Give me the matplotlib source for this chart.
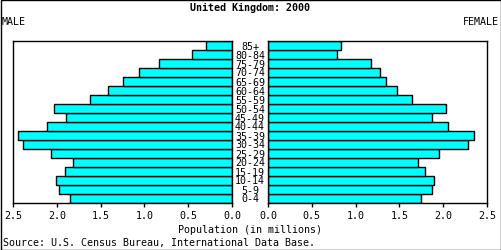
import matplotlib
matplotlib.use("Agg")
import matplotlib.pyplot as plt
from matplotlib.patches import Rectangle

ages = ["0-4", "5-9", "10-14", "15-19", "20-24", "25-29", "30-34", "35-39",
        "40-44", "45-49", "50-54", "55-59", "60-64", "65-69", "70-74",
        "75-79", "80-84", "85+"]
male = [1.846, 1.971, 2.005, 1.903, 1.811, 2.062, 2.386, 2.443, 2.108,
        1.891, 2.028, 1.617, 1.412, 1.240, 1.058, 0.830, 0.453, 0.293]
female = [1.747, 1.872, 1.895, 1.792, 1.712, 1.952, 2.283, 2.352, 2.055,
          1.872, 2.032, 1.644, 1.473, 1.347, 1.279, 1.176, 0.788, 0.833]
ticks = [0.0, 0.5, 1.0, 1.5, 2.0, 2.5]
tick_labels = ["0.0", "0.5", "1.0", "1.5", "2.0", "2.5"]

plt.rcParams['font.family'] = ['DejaVu Sans Mono']
W, H = 501, 251
fig = plt.figure(figsize=(W / 100, H / 100), dpi=100)

fs = 7.2
axL = fig.add_axes([13 / W, (H - 204) / H, 219 / W, 162 / H])
axR = fig.add_axes([268 / W, (H - 204) / H, 219 / W, 162 / H])
y = list(range(len(ages)))
axL.barh(y, male, height=1.0, color="#00FFFF", edgecolor="black", linewidth=1)
axR.barh(y, female, height=1.0, color="#00FFFF", edgecolor="black", linewidth=1)
for ax in (axL, axR):
    ax.set_ylim(-0.5, len(ages) - 0.5)
    ax.set_xlim(0, 2.5)
    ax.set_yticks([])
    ax.set_xticks(ticks)
    ax.set_xticklabels(tick_labels, fontsize=fs)
    ax.tick_params(axis='x', direction='out', length=3, width=1, pad=2)
    for s in ax.spines.values():
        s.set_linewidth(1)
axL.invert_xaxis()

for i, a in enumerate(ages):
    yy = axL.transData.transform((0, i))[1]
    fig.text(250 / W, yy / (H), a, ha='center', va='center', fontsize=fs,
             transform=fig.transFigure)

fig.text(0.5, 1 - 8 / H, "United Kingdom: 2000", ha='center', va='center',
         fontsize=fs, fontweight='bold')
fig.text(2 / W, 1 - 22 / H, "MALE", ha='left', va='center', fontsize=fs)
fig.text(1 - 2 / W, 1 - 22 / H, "FEMALE", ha='right', va='center', fontsize=fs)
fig.text(0.5, 1 - 230 / H, "Population (in millions)", ha='center', va='center', fontsize=fs)
fig.text(3 / W, 1 - 243 / H, "Source: U.S. Census Bureau, International Data Base.",
         ha='left', va='center', fontsize=fs)

fig.patches.append(Rectangle((0.5 / W, 0.5 / H), 1 - 1 / W, 1 - 1 / H, transform=fig.transFigure,
                             fill=False, edgecolor='black', linewidth=1))
fig.savefig("out.png", dpi=100)
